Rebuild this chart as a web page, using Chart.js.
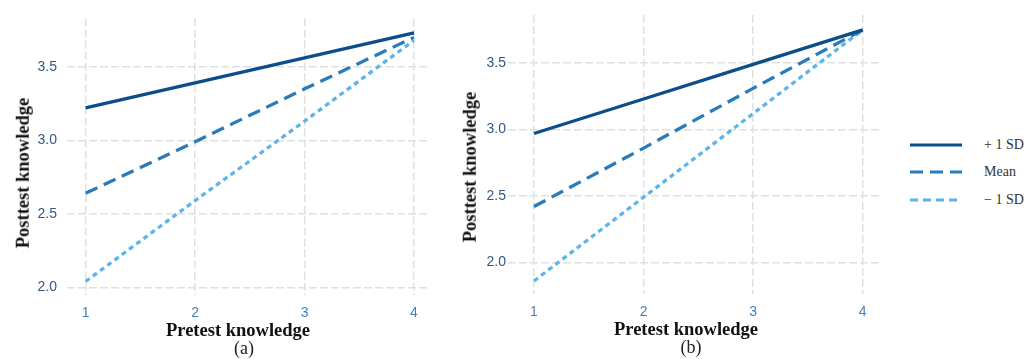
<!DOCTYPE html>
<html>
<head>
<meta charset="utf-8">
<script src="https://cdn.jsdelivr.net/npm/chart.js@4/dist/chart.umd.min.js"></script>
<style>
    html, body { margin: 0; padding: 0; background: #fff; }
    #wrap { position: relative; width: 1033px; height: 359px; overflow: hidden; }
    .box { position: absolute; top: 0; height: 359px; }
    .lbl { position: absolute; transform: translate(-50%, -50%); white-space: nowrap; line-height: 1;
           font-family: "Liberation Serif", serif; color: #111; }
    .xt { font-size: 18.5px; font-weight: bold; }
    .yt { font-size: 18.5px; font-weight: bold; transform: translate(-50%, -50%) rotate(-90deg); }
    .cap { font-size: 18px; color: #222; }
    .leg { position: absolute; left: 906px; top: 131px; }
    .leg-row { display: flex; align-items: center; height: 27.5px; }
    .leg-row span { font-family: "Liberation Serif", serif; font-size: 14px; color: #333; margin-left: 22px; }
</style>
</head>
<body>
<div id="wrap">
    <div class="box" style="left:0;width:440px"><canvas id="chartA"></canvas></div>
    <div class="box" style="left:440px;width:450px"><canvas id="chartB"></canvas></div>

    <div class="lbl xt" style="left:238px;top:330px">Pretest knowledge</div>
    <div class="lbl cap" style="left:244px;top:348px">(a)</div>
    <div class="lbl yt" style="left:23px;top:173px">Posttest knowledge</div>

    <div class="lbl xt" style="left:686px;top:329px">Pretest knowledge</div>
    <div class="lbl cap" style="left:691px;top:347px">(b)</div>
    <div class="lbl yt" style="left:470px;top:167px">Posttest knowledge</div>

    <div class="leg" id="legend"></div>
</div>

<script>
// Data
const pretest = [1, 2, 3, 4];

// Panel (a)
const aPlusSD = [3.22, 3.39, 3.56, 3.73];
const aMean = [2.64, 2.99, 3.35, 3.70];
const aMinusSD = [2.04, 2.59, 3.13, 3.68];

// Panel (b)
const bPlusSD = [2.97, 3.23, 3.49, 3.75];
const bMean = [2.42, 2.86, 3.31, 3.75];
const bMinusSD = [1.86, 2.49, 3.12, 3.75];

// Tick labels
const xTicks = [1, 2, 3, 4];
const yTicks = [2.0, 2.5, 3.0, 3.5];

const seriesNames = ['+ 1 SD', 'Mean', '\u2212 1 SD'];

// Styles for the three lines
const lineStyles = [
    { color: '#0b4e89', dash: [] },
    { color: '#2a7bb9', dash: [13, 7] },
    { color: '#5cb5e8', dash: [5, 4] }
];

function toPoints(values) {
    return values.map((v, i) => ({ x: pretest[i], y: v }));
}

function makeDatasets(series) {
    return series.map((values, i) => ({
        label: seriesNames[i],
        data: toPoints(values),
        borderColor: lineStyles[i].color,
        borderDash: lineStyles[i].dash,
        borderWidth: 3.3,
        borderCapStyle: 'butt',
        pointRadius: 0,
        tension: 0,
        fill: false
    }));
}

function makeChart(id, series, range, box) {
    const ctx = document.getElementById(id).getContext('2d');
    return new Chart(ctx, {
        type: 'line',
        data: { datasets: makeDatasets(series) },
        options: {
            responsive: true,
            maintainAspectRatio: false,
            animation: false,
            layout: { padding: { left: 0, top: 15, right: box.right, bottom: 0 } },
            plugins: { legend: { display: false }, tooltip: { enabled: false } },
            scales: {
                x: {
                    type: 'linear',
                    min: range.xMin,
                    max: range.xMax,
                    afterBuildTicks: s => { s.ticks = xTicks.map(v => ({ value: v })); },
                    afterFit: s => { s.height = box.xHeight; },
                    ticks: {
                        color: '#4682b8',
                        padding: 10,
                        font: { family: 'Liberation Sans', size: 14 },
                        callback: v => String(v)
                    },
                    grid: { color: '#e0e0e0', lineWidth: 1.5, drawTicks: false },
                    border: { display: false, dash: [8, 3] }
                },
                y: {
                    type: 'linear',
                    min: range.yMin,
                    max: range.yMax,
                    afterBuildTicks: s => { s.ticks = yTicks.map(v => ({ value: v })); },
                    afterFit: s => { s.width = box.yWidth; },
                    ticks: {
                        color: '#35577f',
                        padding: box.yPad,
                        font: { family: 'Liberation Sans', size: 14 },
                        callback: v => Number(v).toFixed(1)
                    },
                    grid: { color: '#e0e0e0', lineWidth: 1.5, drawTicks: false },
                    border: { display: false, dash: [8, 3] }
                }
            }
        }
    });
}

makeChart('chartA', [aPlusSD, aMean, aMinusSD],
    { xMin: 0.83, xMax: 4.146, yMin: 1.948, yMax: 3.829 },
    { right: 10, xHeight: 64, yWidth: 67, yPad: 10 });

makeChart('chartB', [bPlusSD, bMean, bMinusSD],
    { xMin: 0.763, xMax: 4.149, yMin: 1.762, yMax: 3.862 },
    { right: 11, xHeight: 65, yWidth: 68, yPad: 2 });

// Legend built from the same series names and styles
const legend = document.getElementById('legend');
seriesNames.forEach((name, i) => {
    const row = document.createElement('div');
    row.className = 'leg-row';
    const dash = i === 2 ? '8 5' : lineStyles[i].dash.join(' ');
    row.innerHTML = `
        <svg width="56" height="6"><line x1="4" y1="3" x2="56" y2="3" stroke="${lineStyles[i].color}"
            stroke-width="3" stroke-dasharray="${dash}"/></svg>
        <span>${name}</span>`;
    legend.appendChild(row);
});
</script>
</body>
</html>
